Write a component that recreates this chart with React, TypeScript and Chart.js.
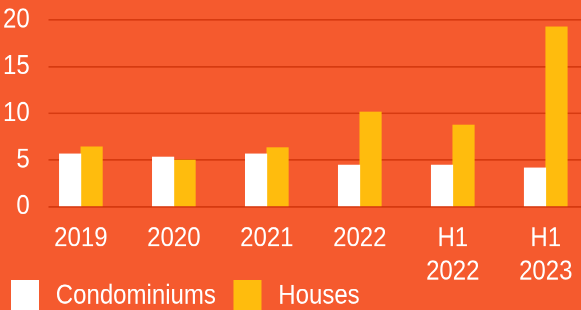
import { useEffect, useRef } from 'react';
import { Chart, registerables } from 'chart.js';

Chart.register(...registerables);

// ---- data ----
const CATEGORIES: (string | string[])[] = ['2019', '2020', '2021', '2022', ['H1', '2022'], ['H1', '2023']];
const CONDOMINIUMS: number[] = [5.65, 5.32, 5.65, 4.47, 4.47, 4.15];
const HOUSES: number[] = [6.4, 5.0, 6.32, 10.14, 8.75, 19.25];
const SERIES_NAMES: string[] = ['Condominiums', 'Houses'];
const Y_MIN = 0;
const Y_MAX = 20;
const Y_STEP = 5;

// ---- style ----
const BG = '#F55A2E';
const GRID = '#D63A10';
const GOLD = '#FFBC0D';
const WHITE = '#FFFFFF';
const FONT_FAMILY = "'Liberation Sans', Arial, Helvetica, sans-serif";
const W = 581;
const H_CSS = 310;
const H_LOGICAL = 270; // drawn slightly condensed, then stretched vertically like the reference
const X_AXIS_H = 64; // layout height of the x axis box
const X_LABEL_CLIP = 74; // label clip height for the two-line labels
const LEGEND_GAP = 56; // distance from plot bottom to legend top (logical px)
const LEGEND_H = 40;

const layoutTweaks = {
  id: 'layoutTweaks',
  afterLayout(chart: any) {
    const x = chart.scales.x;
    if (x) x.bottom = x.top + X_LABEL_CLIP;
    const lg = chart.legend;
    if (!lg) return;
    const top = chart.chartArea.bottom + LEGEND_GAP;
    lg.top = top;
    lg.height = LEGEND_H;
    lg.bottom = top + LEGEND_H;
  },
};

export default function App() {
  const ref = useRef<HTMLCanvasElement | null>(null);

  useEffect(() => {
    const canvas = ref.current;
    if (!canvas) return;
    const font = { family: FONT_FAMILY, size: 24, lineHeight: 1.2 };
    const legendText = ['\u2009' + SERIES_NAMES[0] + '\u2009\u2009', '\u2009' + SERIES_NAMES[1]];

    const chart = new Chart(canvas, {
      type: 'bar',
      data: {
        datasets: [
          {
            label: SERIES_NAMES[0],
            data: CONDOMINIUMS.map((y, i) => ({ x: i, y })),
            backgroundColor: WHITE,
            borderWidth: 0,
            barThickness: 21.5,
          },
          {
            label: SERIES_NAMES[1],
            data: HOUSES.map((y, i) => ({ x: i, y })),
            backgroundColor: GOLD,
            borderWidth: 0,
            barThickness: 21.5,
          },
        ],
      },
      plugins: [layoutTweaks],
      options: {
        responsive: false,
        animation: false,
        devicePixelRatio: 2,
        layout: { padding: { left: 3, top: 17.4, right: 0, bottom: 0 } },
        plugins: {
          tooltip: { enabled: false },
          legend: {
            position: 'bottom',
            align: 'start',
            maxHeight: H_LOGICAL - 17.4 - 162.6 - X_AXIS_H,
            labels: {
              color: WHITE,
              font,
              boxWidth: 28,
              boxHeight: 28,
              padding: 8,
              generateLabels: (c: any) => {
                const items = (Chart.defaults as any).plugins.legend.labels.generateLabels(c);
                return items.map((it: any, i: number) => ({ ...it, text: legendText[i], lineWidth: 0 }));
              },
            },
          },
        },
        scales: {
          x: {
            type: 'linear',
            min: -0.346,
            max: 5.379,
            offset: false,
            grid: { display: false },
            border: { display: false },
            ticks: {
              stepSize: 1,
              includeBounds: false,
              autoSkip: false,
              maxRotation: 0,
              minRotation: 0,
              padding: 5.6,
              color: WHITE,
              font,
              callback: (v: any) => (Number.isInteger(v) && CATEGORIES[v] !== undefined ? CATEGORIES[v] : ''),
            },
            afterFit: (s: any) => {
              s.height = X_AXIS_H;
              s.paddingLeft = 0;
              s.paddingRight = 0;
            },
          },
          y: {
            min: Y_MIN,
            max: Y_MAX,
            grid: { color: GRID, lineWidth: 1.4, drawTicks: false },
            border: { display: false },
            ticks: { stepSize: Y_STEP, padding: 19, color: WHITE, font },
            afterFit: (s: any) => {
              s.width = s.width - s.options.ticks.padding;
              s.paddingTop = 0;
              s.paddingBottom = 0;
            },
          },
        },
      } as any,
    });
    return () => chart.destroy();
  }, []);

  return (
    <div
      style={{
        position: 'fixed',
        left: 0,
        top: 0,
        width: W,
        height: H_CSS,
        background: BG,
        overflow: 'hidden',
      }}
    >
      <canvas ref={ref} width={W} height={H_LOGICAL} style={{ width: W, height: H_CSS, display: 'block' }} />
    </div>
  );
}
